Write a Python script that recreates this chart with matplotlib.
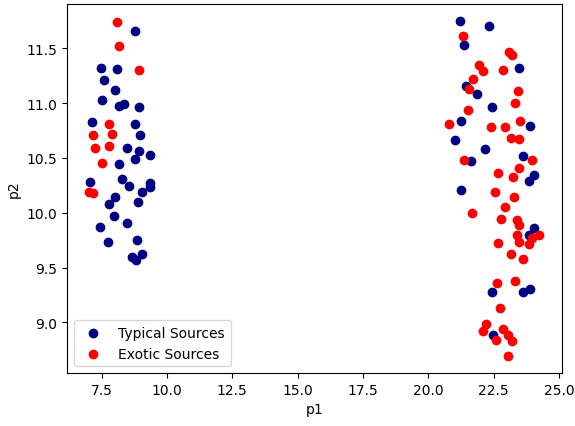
import matplotlib
matplotlib.use("Agg")
import matplotlib.pyplot as plt

# typical sources (p1, p2)
typical_p1 = [8.77, 7.47, 8.09, 7.59, 8.01, 7.51, 8.16, 8.35, 8.93, 7.13,
              8.77, 8.99, 8.47, 8.93, 8.77, 9.35, 8.16, 7.05, 8.29, 8.54,
              9.35, 9.35, 9.03, 8.02, 7.78, 8.89, 7.96, 8.49, 7.44, 7.74,
              8.85, 8.65, 8.83, 9.04,
              21.21, 22.30, 21.35, 23.47, 21.44, 21.84, 22.45, 21.23, 23.88, 21.03,
              22.18, 23.60, 21.63, 24.03, 23.85, 21.26, 24.02, 23.85, 22.44, 23.63,
              23.89, 22.48]
typical_p2 = [11.66, 11.32, 11.31, 11.21, 11.12, 11.03, 10.97, 10.99, 10.96, 10.83,
              10.81, 10.71, 10.59, 10.56, 10.49, 10.53, 10.44, 10.28, 10.31, 10.24,
              10.27, 10.23, 10.19, 10.14, 10.08, 10.10, 9.97, 9.91, 9.87, 9.73,
              9.75, 9.60, 9.57, 9.62,
              11.75, 11.70, 11.53, 11.32, 11.16, 11.08, 10.96, 10.84, 10.79, 10.66,
              10.58, 10.52, 10.47, 10.34, 10.29, 10.21, 9.86, 9.80, 9.28, 9.28,
              9.30, 8.88]

# exotic sources (p1, p2)
exotic_p1 = [8.09, 8.16, 8.95, 7.78, 7.17, 7.89, 7.24, 7.78, 7.51, 7.04, 7.19,
             21.31, 23.10, 23.19, 21.94, 22.07, 22.87, 21.69, 21.54, 23.43, 23.32,
             21.50, 20.80, 23.52, 22.41, 22.93, 23.14, 23.47, 23.98, 21.37, 23.45,
             22.68, 23.22, 22.53, 23.29, 22.91, 21.68, 22.78, 23.37, 23.45, 24.24,
             23.98, 23.37, 23.47, 22.65, 23.83, 23.14, 23.60, 22.62, 23.33, 22.72,
             22.22, 22.10, 22.87, 22.57, 23.04, 23.19, 23.06]
exotic_p2 = [11.74, 11.52, 11.30, 10.81, 10.71, 10.72, 10.59, 10.61, 10.45, 10.19, 10.18,
             11.61, 11.47, 11.44, 11.35, 11.29, 11.30, 11.22, 11.13, 11.11, 11.00,
             10.94, 10.81, 10.84, 10.78, 10.78, 10.68, 10.67, 10.48, 10.48, 10.41,
             10.36, 10.33, 10.19, 10.14, 10.05, 10.00, 9.94, 9.93, 9.89, 9.80,
             9.77, 9.80, 9.73, 9.72, 9.71, 9.62, 9.58, 9.36, 9.38, 9.13,
             8.98, 8.92, 8.94, 8.84, 8.88, 8.83, 8.69]

fig = plt.figure(figsize=(5.75, 4.27), dpi=100)
ax = fig.add_subplot(111)
ax.scatter(typical_p1, typical_p2, color='navy', label='Typical Sources')
ax.scatter(exotic_p1, exotic_p2, color='red', label='Exotic Sources')
ax.set_xlabel('p1')
ax.set_ylabel('p2')
ax.legend(loc='lower left')
fig.subplots_adjust(left=0.1165, right=0.977, top=0.988, bottom=0.124)
fig.savefig('out.png', dpi=100)
